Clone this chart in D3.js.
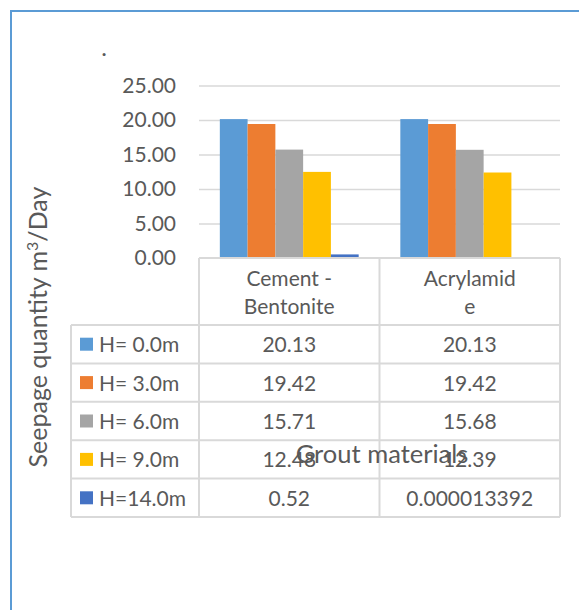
<!DOCTYPE html>
<html>
<head>
<meta charset="utf-8">
<script src="https://cdn.jsdelivr.net/npm/d3@7.9.0/dist/d3.min.js"></script>
<style>
  body { margin: 0; background: #fff; }
  svg { display: block; font-family: Lato, "Open Sans", sans-serif; }
</style>
</head>
<body>
<div id="plot-container"></div>
<script>
// chart data
const categories = ["Cement - Bentonite", "Acrylamide"];
const categoryLines = [["Cement -", "Bentonite"], ["Acrylamid", "e"]];
const seriesNames = ["H= 0.0m", "H= 3.0m", "H= 6.0m", "H= 9.0m", "H=14.0m"];
const seriesColors = ["#5B9BD5", "#ED7D31", "#A5A5A5", "#FFC000", "#4472C4"];
const cementValues = [20.13, 19.42, 15.71, 12.48, 0.52];
const acrylValues = [20.13, 19.42, 15.68, 12.39, 0.000013392];
const tableLabels = [
    ["20.13", "20.13"],
    ["19.42", "19.42"],
    ["15.71", "15.68"],
    ["12.48", "12.39"],
    ["0.52", "0.000013392"]
];
const yTicks = [0, 5, 10, 15, 20, 25];

const width = 579;
const height = 610;
const textColor = "#595959";
const gridColor = "#D9D9D9";
const fs = 21;

const svg = d3.select("#plot-container")
    .append("svg")
    .attr("width", width)
    .attr("height", height);

// outer frame (cut off at right and bottom)
svg.append("rect")
    .attr("x", 11).attr("y", 11)
    .attr("width", 640).attr("height", 700)
    .attr("fill", "none")
    .attr("stroke", "#5B9BD5")
    .attr("stroke-width", 2);

// title is just a dot
svg.append("text")
    .attr("x", 104).attr("y", 56)
    .attr("text-anchor", "middle")
    .attr("font-size", 24)
    .attr("fill", textColor)
    .text(".");

const plot = { left: 199, right: 560, top: 85.5, bottom: 258 };

const x = d3.scaleBand()
    .domain(categories)
    .range([plot.left, plot.right]);

const y = d3.scaleLinear()
    .domain([0, 25])
    .range([plot.bottom, plot.top]);

const bw = x.bandwidth();
const inner = d3.scaleBand()
    .domain(seriesNames)
    .range([bw * 0.75 / 6.5, bw - bw * 0.75 / 6.5]);

// gridlines
svg.append("g")
    .attr("class", "gridlines")
    .attr("transform", `translate(${plot.left},0)`)
    .call(d3.axisLeft(y).tickValues(yTicks.slice(1)).tickFormat("").tickSize(-(plot.right - plot.left)))
    .call(g => g.select(".domain").remove())
    .call(g => g.selectAll("line").attr("stroke", gridColor).attr("stroke-width", 1.5));

// y tick labels
svg.append("g")
    .attr("transform", `translate(176,0)`)
    .call(d3.axisLeft(y).tickValues(yTicks).tickFormat(d3.format(".2f")).tickSize(0).tickPadding(0))
    .call(g => g.select(".domain").remove())
    .call(g => g.selectAll("text")
        .attr("font-size", fs)
        .attr("font-family", "Lato, sans-serif")
        .attr("fill", textColor));

// bars
const groups = [cementValues, acrylValues];
svg.append("g").selectAll("g")
    .data(categories)
    .join("g")
    .attr("transform", d => `translate(${x(d)},0)`)
    .selectAll("rect")
    .data((d, i) => groups[i].map((v, j) => ({ name: seriesNames[j], value: v, color: seriesColors[j] })))
    .join("rect")
    .attr("x", d => inner(d.name))
    .attr("width", inner.bandwidth())
    .attr("y", d => y(d.value))
    .attr("height", d => y(0) - y(d.value))
    .attr("fill", d => d.color);

// data table
const table = svg.append("g").attr("class", "data-table");
const rowH = 38.4;
const headBottom = 325;
const tableLeft = 71;
const tableBottom = headBottom + rowH * seriesNames.length;

const tline = (x1, y1, x2, y2) => table.append("line")
    .attr("x1", x1).attr("y1", y1).attr("x2", x2).attr("y2", y2)
    .attr("stroke", gridColor).attr("stroke-width", 2);

// axis line / header top
tline(plot.left, plot.bottom, plot.right, plot.bottom);
// horizontal row lines
for (let i = 0; i <= seriesNames.length; i++) {
    tline(tableLeft, headBottom + i * rowH, plot.right, headBottom + i * rowH);
}
// verticals
tline(tableLeft, headBottom, tableLeft, tableBottom);
tline(plot.left, plot.bottom, plot.left, tableBottom);
categories.forEach(c => tline(x(c) + bw, plot.bottom, x(c) + bw, tableBottom));

// header text
categories.forEach((c, i) => {
    const t = table.append("text")
        .attr("x", x(c) + bw / 2)
        .attr("text-anchor", "middle")
        .attr("font-size", fs)
        .attr("fill", textColor);
    categoryLines[i].forEach((ln, k) => {
        t.append("tspan").attr("x", x(c) + bw / 2).attr("y", 286 + k * 28).text(ln);
    });
});

// legend keys and values
seriesNames.forEach((s, i) => {
    const cy = headBottom + i * rowH + rowH / 2;
    table.append("rect")
        .attr("x", 80).attr("y", cy - 6.5)
        .attr("width", 13).attr("height", 13)
        .attr("fill", seriesColors[i]);
    table.append("text")
        .attr("x", 99).attr("y", cy + 8)
        .attr("font-size", fs)
        .attr("fill", textColor)
        .text(s);
    categories.forEach((c, j) => {
        table.append("text")
            .attr("x", x(c) + bw / 2).attr("y", cy + 8)
            .attr("text-anchor", "middle")
            .attr("font-size", fs)
            .attr("fill", textColor)
            .text(tableLabels[i][j]);
    });
});

// axis titles
svg.append("text")
    .attr("transform", "translate(47,327) rotate(-90)")
    .attr("text-anchor", "middle")
    .attr("font-size", 25)
    .attr("fill", textColor)
    .html("Seepage quantity m<tspan baseline-shift='super' font-size='16'>3</tspan>/Day");

svg.append("text")
    .attr("x", 382).attr("y", 463)
    .attr("text-anchor", "middle")
    .attr("font-size", 25.5)
    .attr("fill", textColor)
    .text("Grout materials");
</script>
</body>
</html>
